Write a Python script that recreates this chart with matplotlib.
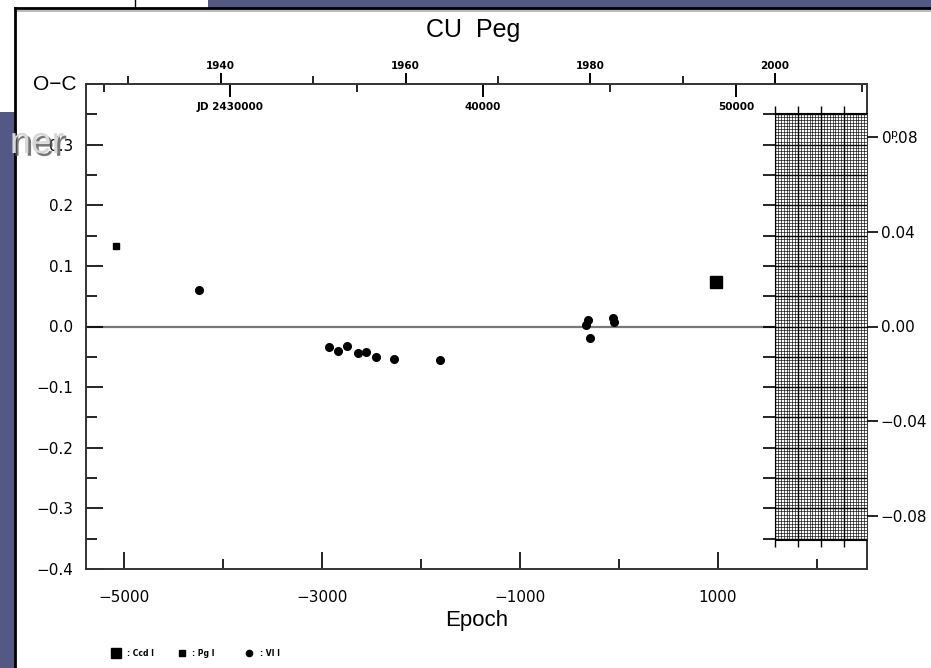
import matplotlib
matplotlib.use("Agg")
import matplotlib.pyplot as plt
import matplotlib.patheffects as pe
from matplotlib.ticker import MultipleLocator, FixedLocator, FuncFormatter
import numpy as np

plt.rcParams['font.family'] = ['DejaVu Sans']
plt.rcParams['mathtext.fontset'] = 'dejavusans'
HELV = ['Liberation Sans', 'DejaVu Sans']

# ---- data (Epoch, O-C in days) ----
vis_epoch = [-4239, -2929, -2838, -2747, -2640, -2556, -2458, -2276, -1811,
             -336, -313, -296, -61, -47]
vis_oc = [0.060, -0.033, -0.041, -0.032, -0.043, -0.042, -0.051, -0.054, -0.056,
          0.002, 0.010, -0.019, 0.014, 0.008]
pg_epoch = [-5085]
pg_oc = [0.133]
ccd_epoch = [983]
ccd_oc = [0.074]

title = "CU  Peg"
x_label = "Epoch"
y_label = "O\u2212C"
bottom_ticks = [-5000, -3000, -1000, 1000]
left_ticks = [-0.4, -0.3, -0.2, -0.1, 0.0, 0.1, 0.2, 0.3, 0.4]
year_ticks = [1940, 1960, 1980, 2000]
jd_ticks = [30000, 40000, 50000]
right_ticks = [-0.08, -0.04, 0.00, 0.04, 0.08]

# linear ephemeris used for the top scales (reduced JD = JD - 2400000)
JD0 = 45375.0
PER = 3.914

W, H = 931, 668
fig = plt.figure(figsize=(W / 100, H / 100), dpi=100)
fig.patch.set_facecolor('white')

blue = '#545884'
def fr(x0, y0, x1, y1, **kw):
    fig.patches.append(plt.Rectangle((x0 / W, 1 - y1 / H), (x1 - x0) / W, (y1 - y0) / H,
                                     transform=fig.transFigure, figure=fig, **kw))
# slide background fragments
fr(208, 0, 931, 8, color=blue, lw=0)
fr(0, 112, 15, 668, color=blue, lw=0)
fr(15, 10, 931, 12, color='#bbbbbb', lw=0)
fig.add_artist(plt.Line2D([15 / W, 15 / W], [0, 1 - 8 / H], color='black', lw=2, transform=fig.transFigure))
fig.add_artist(plt.Line2D([15 / W, 1], [1 - 8 / H, 1 - 8 / H], color='black', lw=2, transform=fig.transFigure))
fig.add_artist(plt.Line2D([135 / W, 135 / W], [1, 1 - 8 / H], color='black', lw=1, transform=fig.transFigure))

# ---- main axes ----
L, T, R, B = 86, 84, 867, 569
ax = fig.add_axes([L / W, 1 - B / H, (R - L) / W, (B - T) / H])
ax.set_xlim(-5384, 2505)
ax.set_ylim(-0.4, 0.4)
for s in ax.spines.values():
    s.set_linewidth(1.4)
    s.set_color('#333333')

ax.axhline(0, color='#777777', lw=1.6, zorder=1)
ax.plot(vis_epoch, vis_oc, 'o', color='black', ms=5.5, zorder=3)
ax.plot(pg_epoch, pg_oc, 's', color='black', ms=5, zorder=3)
ax.plot(ccd_epoch, ccd_oc, 's', color='black', ms=8, zorder=3)

ax.xaxis.set_major_locator(FixedLocator(bottom_ticks))
ax.xaxis.set_minor_locator(MultipleLocator(1000))
ax.xaxis.set_major_formatter(FuncFormatter(lambda v, p: f"{int(v)}".replace('-', '\u2212')))
ax.yaxis.set_major_locator(FixedLocator(left_ticks))
ax.yaxis.set_minor_locator(MultipleLocator(0.05))
ax.yaxis.set_major_formatter(FuncFormatter(
    lambda v, p: "" if v > 0.35 else f"{v:.1f}".replace('-', '\u2212')))
ax.tick_params(axis='x', which='major', direction='in', length=12, width=1.2,
               labelsize=11, pad=15, top=False)
ax.tick_params(axis='x', which='minor', direction='in', length=7, width=1.2, top=False)
ax.tick_params(axis='y', which='major', direction='in', length=12, width=1.2,
               labelsize=11, pad=9, right=False)
ax.tick_params(axis='y', which='minor', direction='in', length=8, width=1.2, right=False)
ax.set_xlabel(x_label, fontsize=16, labelpad=4, family=HELV)
ax.text(-0.012, 1.0, y_label, transform=ax.transAxes, ha='right', va='center',
        fontsize=15, family=HELV)
fig.text(473 / W, 1 - 30 / H, title, ha='center', va='center', fontsize=18, family=HELV)

# ---- top axis: years (ticks outward, labels above) ----
def e2jd(e):
    return JD0 + PER * np.asarray(e)
def jd2e(j):
    return (np.asarray(j) - JD0) / PER
def e2yr(e):
    return 2000 + (e2jd(e) - 51545.0) / 365.25
def yr2e(y):
    return jd2e(51545.0 + (np.asarray(y) - 2000) * 365.25)

axy = ax.secondary_xaxis('top', functions=(e2yr, yr2e))
axy.spines['top'].set_visible(False)
axy.xaxis.set_major_locator(FixedLocator(year_ticks))
axy.xaxis.set_minor_locator(MultipleLocator(10))
axy.tick_params(which='major', direction='out', length=8, width=1.4, labelsize=7.5, pad=1)
axy.tick_params(which='minor', direction='out', length=6, width=1.2)
for t in axy.get_xticklabels():
    t.set_fontweight('bold')

axj = ax.secondary_xaxis('top', functions=(e2jd, jd2e))
axj.spines['top'].set_visible(False)
axj.xaxis.set_major_locator(FixedLocator(jd_ticks))
axj.xaxis.set_minor_locator(MultipleLocator(5000))
axj.xaxis.set_major_formatter(FuncFormatter(
    lambda v, p: "JD 2430000" if abs(v - 30000) < 1 else f"{int(v)}"))
axj.tick_params(which='major', direction='in', length=9, width=1.4, labelsize=7.5, pad=-20)
axj.tick_params(which='minor', direction='in', length=6, width=1.2)
for t in axj.get_xticklabels():
    t.set_fontweight('bold')

# ---- right axis ----
axr = ax.twinx()
axr.set_ylim(-0.1026, 0.1026)
axr.yaxis.set_major_locator(FixedLocator(right_ticks))
def rfmt(v, p):
    s = f"{v:.2f}".replace('-', '\u2212')
    if abs(v - 0.08) < 1e-9:
        s = r"0$^{\mathrm{p}}\!\!$.08"
    return s
axr.yaxis.set_major_formatter(FuncFormatter(rfmt))
axr.tick_params(axis='y', direction='out', length=8, width=1.2, labelsize=11, pad=2)
for s in axr.spines.values():
    s.set_visible(False)

# ---- gridded inset ----
gx0, gy0, gx1, gy1 = 775, 113, 867, 540
axg = fig.add_axes([gx0 / W, 1 - gy1 / H, (gx1 - gx0) / W, (gy1 - gy0) / H])
axg.set_xlim(0, 1)
axg.set_ylim(-0.352, 0.352)
axg.xaxis.set_major_locator(FixedLocator([0, 0.25, 0.5, 0.75]))
axg.xaxis.set_minor_locator(MultipleLocator(1 / 32))
axg.yaxis.set_major_locator(MultipleLocator(0.05))
axg.yaxis.set_minor_locator(MultipleLocator(0.005))
axg.grid(True, which='major', color='black', lw=1.0)
axg.grid(True, which='minor', color='black', lw=0.45)
axg.tick_params(which='major', axis='x', direction='out', length=5, width=1,
                top=True, bottom=True, labelbottom=False)
axg.tick_params(which='major', axis='y', direction='out', length=9, width=1.2,
                left=True, right=False, labelleft=False)
axg.tick_params(which='minor', length=0)
for s in axg.spines.values():
    s.set_linewidth(0.8)
axg.spines['right'].set_visible(False)

# ---- legend line ----
ly = 1 - 653 / H
fig.add_artist(plt.Line2D([116 / W], [ly], marker='s', ms=6.5, color='black', transform=fig.transFigure))
fig.text(127 / W, ly, ": Ccd I", fontsize=5.5, fontweight='bold', va='center')
fig.add_artist(plt.Line2D([182 / W], [ly], marker='s', ms=5, color='black', transform=fig.transFigure))
fig.text(192 / W, ly, ": Pg I", fontsize=5.5, fontweight='bold', va='center')
fig.add_artist(plt.Line2D([249 / W], [ly], marker='o', ms=4.5, color='black', transform=fig.transFigure))
fig.text(260 / W, ly, ": VI I", fontsize=5.5, fontweight='bold', va='center')

# ---- slide text fragment overlapping the chart ----
fig.text(64 / W, 1 - 143 / H, "ner", ha='right', va='center', fontsize=27,
         color='#d8d8d8', zorder=10, family=HELV,
         path_effects=[pe.withSimplePatchShadow(offset=(2, -2), shadow_rgbFace='#555555', alpha=0.8)])

fig.savefig("out.png", dpi=100, facecolor=fig.get_facecolor())
